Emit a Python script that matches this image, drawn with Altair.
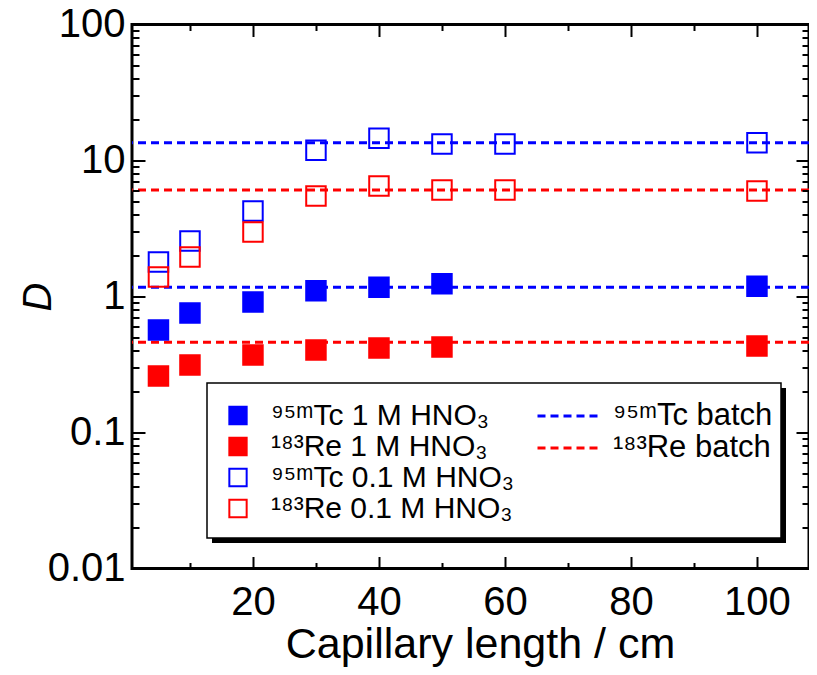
import altair as alt
import pandas as pd

# ---------------- data ----------------
lengths_1M = [5, 10, 20, 30, 40, 50, 100]
tc_1M = [0.567, 0.757, 0.91, 1.10, 1.17, 1.24, 1.19]
re_1M = [0.26, 0.313, 0.371, 0.404, 0.418, 0.425, 0.433]

lengths_01M = [5, 10, 20, 30, 40, 50, 60, 100]
tc_01M = [1.79, 2.56, 4.25, 11.9, 14.6, 13.2, 13.2, 13.5]
re_01M = [1.39, 1.95, 2.98, 5.48, 6.49, 6.07, 6.07, 5.97]

tc_batch = [13.5, 1.17]
re_batch = [6.07, 0.46]

S1 = "⁹⁵ᵐTc 1 M HNO₃"
S2 = "¹⁸³Re 1 M HNO₃"
S3 = "⁹⁵ᵐTc 0.1 M HNO₃"
S4 = "¹⁸³Re 0.1 M HNO₃"
B1 = "⁹⁵ᵐTc batch"
B2 = "¹⁸³Re batch"

x_ticks_major = [20, 40, 60, 80, 100]
x_ticks_all = [10, 20, 30, 40, 50, 60, 70, 80, 90, 100]
y_ticks_major = [0.01, 0.1, 1, 10, 100]

# ---------------- tables ----------------
rows = []
for L, d in zip(lengths_1M, tc_1M):
    rows.append({"L": L, "D": d, "series": S1})
for L, d in zip(lengths_1M, re_1M):
    rows.append({"L": L, "D": d, "series": S2})
for L, d in zip(lengths_01M, tc_01M):
    rows.append({"L": L, "D": d, "series": S3})
for L, d in zip(lengths_01M, re_01M):
    rows.append({"L": L, "D": d, "series": S4})
pts = pd.DataFrame(rows)

brows = [{"D": d, "batch": B1} for d in tc_batch] + [{"D": d, "batch": B2} for d in re_batch]
batch = pd.DataFrame(brows)

y_ticks_all = []
for dec in [0.01, 0.1, 1, 10]:
    for m in range(1, 10):
        y_ticks_all.append(round(m * dec, 6))
y_ticks_all.append(100)

W, H = 677, 544
BLUE, RED = "#0000ff", "#ff0000"
FONT = "Liberation Sans"

xscale = alt.Scale(domain=[0.8, 108.26], nice=False, zero=False)
yscale = alt.Scale(type="log", domain=[0.01, 100], nice=False)

x_major_test = "datum.value % 20 === 0"
y_major_test = "abs(log(datum.value)/LN10 - round(log(datum.value)/LN10)) < 0.001"
x_tick_size = {"condition": {"test": x_major_test, "value": 12}, "value": 6}
y_tick_size = {"condition": {"test": y_major_test, "value": 13}, "value": 7}

# ---------------- legend box ----------------
one = alt.Data(values=[{"a": 1}])
shadow = alt.Chart(one).mark_rect(fill="black").encode(
    x=alt.value(80), x2=alt.value(654), y=alt.value(363.5), y2=alt.value(518.5)
)
box = alt.Chart(one).mark_rect(fill="white", stroke="black", strokeWidth=1.5).encode(
    x=alt.value(75), x2=alt.value(649), y=alt.value(358.5), y2=alt.value(513.5)
)

# ---------------- batch lines ----------------
rules = alt.Chart(batch).mark_rule(strokeDash=[8, 5], strokeWidth=3).encode(
    y=alt.Y("D:Q", scale=yscale, axis=None),
    color=alt.Color(
        "batch:N",
        scale=alt.Scale(domain=[B1, B2], range=[BLUE, RED]),
        legend=alt.Legend(
            title=None, orient="none", legendX=419, legendY=375,
            symbolType="M-2,0H2", symbolSize=900, symbolStrokeWidth=3,
            symbolDash=[8, 5], labelFontSize=31, labelOffset=29,
            rowPadding=0, labelLimit=400, padding=0,
        ),
    ),
)

# ---------------- points ----------------
dom = [S1, S2, S3, S4]
leg = alt.Legend(
    title=None, orient="none", legendX=91, legendY=376,
    symbolType="square", symbolSize=300, symbolStrokeWidth=2,
    labelFontSize=30, labelOffset=18, rowPadding=1, labelLimit=400, padding=0,
)
points = alt.Chart(pts).mark_point(shape="square", size=380, strokeWidth=2, opacity=1).encode(
    x=alt.X("L:Q", scale=xscale,
            axis=alt.Axis(orient="bottom", values=x_ticks_major, ticks=False, domain=False,
                          grid=False, labelPadding=14, labelBaseline="top",
                          title="Capillary length / cm", titleX=348, titleY=89,
                          titleBaseline="alphabetic", titleFontSize=43)),
    y=alt.Y("D:Q", scale=yscale,
            axis=alt.Axis(orient="left", values=y_ticks_major, ticks=False, domain=False,
                          grid=False, labelPadding=7,
                          labelExpr="datum.value >= 1 ? format(datum.value, 'd') : format(datum.value, '.2~f')",
                          title="D", titleFontStyle="italic", titleX=-82, titleY=272,
                          titleAngle=270, titleBaseline="alphabetic", titleAlign="center",
                          titleFontSize=40)),
    fill=alt.Fill("series:N", scale=alt.Scale(domain=dom, range=[BLUE, RED, "transparent", "transparent"]), legend=leg),
    stroke=alt.Stroke("series:N", scale=alt.Scale(domain=dom, range=[BLUE, RED, BLUE, RED]), legend=leg),
)

# ---------------- inward ticks (axes only) ----------------
ticks_a = alt.Chart(pts).mark_point(opacity=0).encode(
    x=alt.X("L:Q", scale=xscale,
            axis=alt.Axis(orient="top", offset=-H, values=x_ticks_all, labels=False, domain=False,
                          grid=False, title=None, tickSize=x_tick_size, tickWidth=2,
                          tickColor="black", zindex=1)),
    y=alt.Y("D:Q", scale=yscale,
            axis=alt.Axis(orient="right", offset=-W, values=y_ticks_all, labels=False, domain=False,
                          grid=False, title=None, tickSize=y_tick_size, tickWidth=2,
                          tickColor="black", zindex=1)),
)
ticks_b = alt.Chart(pts).mark_point(opacity=0).encode(
    x=alt.X("L:Q", scale=xscale,
            axis=alt.Axis(orient="bottom", offset=-H, values=x_ticks_all, labels=False, domain=False,
                          grid=False, title=None, tickSize=x_tick_size, tickWidth=2,
                          tickColor="black", zindex=1)),
    y=alt.Y("D:Q", scale=yscale,
            axis=alt.Axis(orient="left", offset=-W, values=y_ticks_all, labels=False, domain=False,
                          grid=False, title=None, tickSize=y_tick_size, tickWidth=2,
                          tickColor="black", zindex=1)),
)

chart = alt.layer(shadow, box, rules, points, ticks_a, ticks_b).resolve_axis(
    x="independent", y="independent"
).resolve_legend(
    fill="shared", stroke="shared"
).properties(
    width=W, height=H,
    padding={"left": 124, "top": 16.5, "right": 0, "bottom": 98},
    autosize=alt.AutoSizeParams(type="none"),
).configure_view(
    stroke="black", strokeWidth=3
).configure_axis(
    labelFont=FONT, titleFont=FONT, labelFontSize=40, labelColor="black",
    titleColor="black", titleFontWeight="normal",
).configure_legend(
    labelFont=FONT, labelColor="black",
)

chart.save("out.html", embed_options={"renderer": "svg", "actions": False})
